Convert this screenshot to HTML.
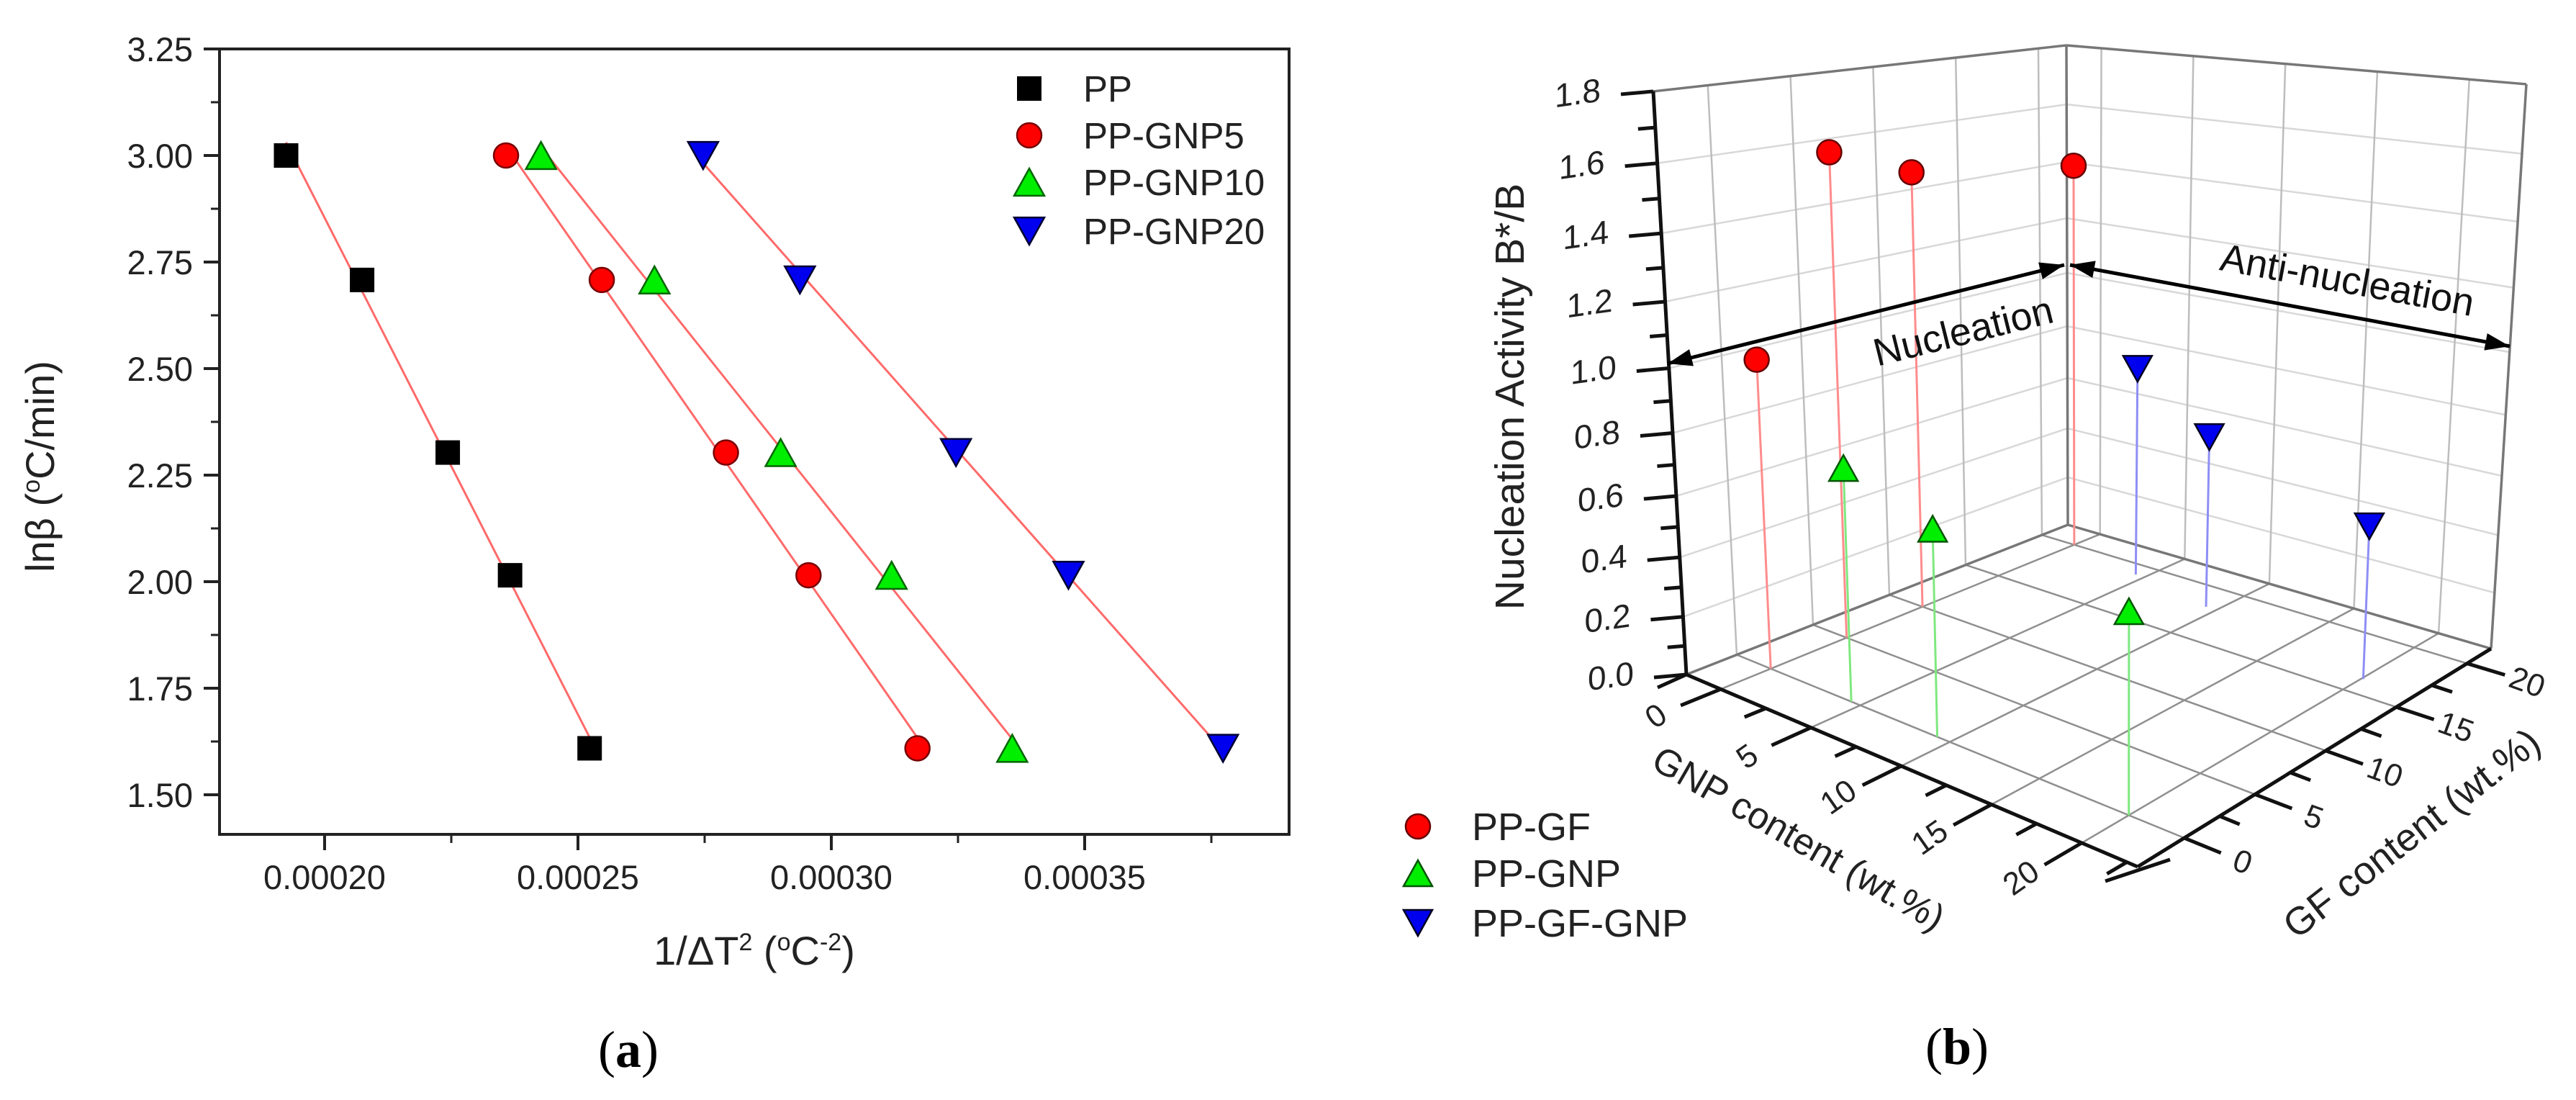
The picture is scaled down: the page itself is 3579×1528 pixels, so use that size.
<!DOCTYPE html>
<html><head><meta charset="utf-8"><style>
html,body{margin:0;padding:0;background:#fff;}
svg{display:block;font-family:"Liberation Sans",Arial,sans-serif;}
</style></head><body>
<svg id="fig" width="3579" height="1528" viewBox="0 0 3579 1528" xmlns="http://www.w3.org/2000/svg">
<g id="panelA"></g>
<g id="panelB"></g>
<text x="873" y="1482" font-family="Liberation Serif,serif" font-size="72" text-anchor="middle">(<tspan font-weight="bold">a</tspan>)</text>
<text x="2719" y="1478" font-family="Liberation Serif,serif" font-size="72" text-anchor="middle">(<tspan font-weight="bold">b</tspan>)</text>
</svg>
<script>
// ---------- Panel (a) data ----------
const lnBeta = [3.0, 2.708, 2.303, 2.015, 1.609];
const xPP = [0.0001924, 0.0002074, 0.0002243, 0.0002366, 0.0002523];
const xGNP5 = [0.0002358, 0.0002547, 0.0002792, 0.0002955, 0.0003170];
const xGNP10 = [0.0002427, 0.0002651, 0.0002900, 0.0003119, 0.0003357];
const xGNP20 = [0.0002747, 0.0002938, 0.0003246, 0.0003468, 0.0003773];
const xTicks = [0.00020, 0.00025, 0.00030, 0.00035];
const xTickLabels = ["0.00020", "0.00025", "0.00030", "0.00035"];
const yTicks = [1.50, 1.75, 2.00, 2.25, 2.50, 2.75, 3.00, 3.25];
const yTickLabels = ["1.50", "1.75", "2.00", "2.25", "2.50", "2.75", "3.00", "3.25"];
const seriesNamesA = ["PP", "PP-GNP5", "PP-GNP10", "PP-GNP20"];

// ---------- Panel (b) data ----------
const gnpTicks = [0, 5, 10, 15, 20];
const gfTicks = [0, 5, 10, 15, 20];
const zTicks = [0, 0.2, 0.4, 0.6, 0.8, 1.0, 1.2, 1.4, 1.6, 1.8];
const zTickLabels = ["0.0", "0.2", "0.4", "0.6", "0.8", "1.0", "1.2", "1.4", "1.6", "1.8"];
const ppgfGNP = [0, 0, 0, 0];
const ppgfGF = [0, 5, 10, 20];
const ppgfZ = [1.015, 1.59, 1.49, 1.42];
const ppgnpGNP = [4.5, 9.3, 20];
const ppgnpGF = [0, 0, 0];
const ppgnpZ = [0.753, 0.65, 0.59];
const ppgfgnpGNP = [4.5, 9.4, 20.1];
const ppgfgnpGF = [19, 18.1, 16.3];
const ppgfgnpZ = [0.775, 0.62, 0.515];
const seriesNamesB = ["PP-GF", "PP-GNP", "PP-GF-GNP"];

const NS = "http://www.w3.org/2000/svg";
function mk(tag, attrs, parent) {
  const e = document.createElementNS(NS, tag);
  for (const k in attrs) e.setAttribute(k, attrs[k]);
  parent.appendChild(e);
  return e;
}
function tri(cx, cy, s, down) {
  const h = s * 0.9;
  if (down) return `${cx - s/2},${cy - h/2} ${cx + s/2},${cy - h/2} ${cx},${cy + h/2}`;
  return `${cx - s/2},${cy + h/2} ${cx + s/2},${cy + h/2} ${cx},${cy - h/2}`;
}

// ================= Panel A =================
const A = document.getElementById("panelA");
const fx = v => 451 + (v - 0.0002) / 0.00005 * 352;
const fy = v => 216 - (v - 3.0) * 592;
const FL = 305, FR = 1791, FT = 68, FB = 1159;

const frame = mk("rect", {x: FL, y: FT, width: FR - FL, height: FB - FT, fill: "none", stroke: "#222", "stroke-width": 4}, A);



xTicks.forEach((t, i) => {
  const x = fx(t);
  const tk = mk("line", {x1: x, y1: FB, x2: x, y2: FB + 22, stroke: "#222", "stroke-width": 4}, A);
  
  
  const mx = fx(t + 0.000025);
  if (mx < FR) {
    const mt = mk("line", {x1: mx, y1: FB, x2: mx, y2: FB + 12, stroke: "#222", "stroke-width": 3}, A);
    
    
  }
  const lb = mk("text", {x: x, y: 1235, "font-size": 47, "text-anchor": "middle", fill: "#222"}, A);
  lb.textContent = xTickLabels[i];
  
  
});
const mx0 = fx(0.000175 + 0.0000);
yTicks.forEach((t, i) => {
  const y = fy(t);
  const tk = mk("line", {x1: FL - 22, y1: y, x2: FL, y2: y, stroke: "#222", "stroke-width": 4}, A);
  
  
  const my = fy(t - 0.125);
  if (my < FB) {
    const mt = mk("line", {x1: FL - 12, y1: my, x2: FL, y2: my, stroke: "#222", "stroke-width": 3}, A);
    
    
  }
  const lb = mk("text", {x: 268, y: y + 17, "font-size": 47, "text-anchor": "end", fill: "#222"}, A);
  lb.textContent = yTickLabels[i];
  
  
});
const xt = mk("text", {x: 1048, y: 1340, "font-size": 56, "text-anchor": "middle", fill: "#222"}, A);
xt.innerHTML = '1/ΔT<tspan dy="-20" font-size="34">2</tspan><tspan dy="20"> (</tspan><tspan dy="-20" font-size="34">o</tspan><tspan dy="20">C</tspan><tspan dy="-20" font-size="34">-2</tspan><tspan dy="20">)</tspan>';


const yt = mk("text", {x: 0, y: 0, "font-size": 56, "text-anchor": "middle", fill: "#222", transform: "translate(75,648) rotate(-90)"}, A);
yt.innerHTML = 'lnβ (<tspan dy="-20" font-size="34">o</tspan><tspan dy="20">C/min)</tspan>';



const seriesA = [xPP, xGNP5, xGNP10, xGNP20];
const fillsA = ["#000", "#ff0000", "#00ee00", "#0000ee"];
const strokesA = ["#000", "#700", "#060", "#003"];
const shapesA = ["square", "circle", "up", "down"];
function markerA(shape, cx, cy, i, parent) {
  let e;
  if (shape === "square") e = mk("rect", {x: cx - 16, y: cy - 16, width: 32, height: 32, fill: fillsA[i], stroke: strokesA[i], "stroke-width": 2}, parent);
  else if (shape === "circle") e = mk("circle", {cx: cx, cy: cy, r: 17, fill: fillsA[i], stroke: strokesA[i], "stroke-width": 2.5}, parent);
  else e = mk("polygon", {points: tri(cx, cy, 42, shape === "down"), fill: fillsA[i], stroke: strokesA[i], "stroke-width": 2.5}, parent);
  return e;
}
seriesA.forEach((xs, i) => {
  // least-squares fit line
  const n = xs.length;
  const mxv = xs.reduce((a, b) => a + b) / n, myv = lnBeta.reduce((a, b) => a + b) / n;
  let sxy = 0, sxx = 0;
  for (let k = 0; k < n; k++) { sxy += (xs[k] - mxv) * (lnBeta[k] - myv); sxx += (xs[k] - mxv) ** 2; }
  const b = sxy / sxx, a = myv - b * mxv;
  const x0 = Math.min(...xs), x1 = Math.max(...xs);
  const ln = mk("line", {x1: fx(x0), y1: fy(a + b * x0), x2: fx(x1), y2: fy(a + b * x1), stroke: "#ff6a6a", "stroke-width": 3}, A);
  
  
});
seriesA.forEach((xs, i) => {
  xs.forEach((v, k) => {
    const m = markerA(shapesA[i], fx(v), fy(lnBeta[k]), i, A);
    
    
  });
});
const legendRowsA = [123, 188, 253, 321];
seriesNamesA.forEach((nm, i) => {
  const g = mk("g", {}, A);
  
  
  markerA(shapesA[i], 1430, legendRowsA[i], i, g);
  const t = mk("text", {x: 1505, y: legendRowsA[i] + 18, "font-size": 51, fill: "#222"}, g);
  t.textContent = nm;
});

// ================= Panel B =================
const B = document.getElementById("panelB");
const GMIN = -1.9, GR = 25, FMIN = -3.3, FRG = 25;
const C00 = [2343, 937], C10 = [2970, 1204], C01 = [2873, 729], C11 = [3461, 901];
const H00 = [-46, -810], H10 = [0, -991], H01 = [-2, -666], H11 = [49, -784];
function bil(u, v, a, b, c, d) {
  return [(1-u)*(1-v)*a[0] + u*(1-v)*b[0] + (1-u)*v*c[0] + u*v*d[0],
          (1-u)*(1-v)*a[1] + u*(1-v)*b[1] + (1-u)*v*c[1] + u*v*d[1]];
}
const gz = z => (394.4 * z + 30.6 * z * z) / 809;
function P(g, f, z) {
  const u = (g - GMIN) / GR, v = (f - FMIN) / FRG;
  const p = bil(u, v, C00, C10, C01, C11), h = bil(u, v, H00, H10, H01, H11);
  const s = gz(z);
  return [p[0] + h[0] * s, p[1] + h[1] * s];
}
const GMAX = GMIN + GR, FMAX = FMIN + FRG;
function line3(a, b, attrs, name) {
  const e = mk("line", Object.assign({x1: a[0], y1: a[1], x2: b[0], y2: b[1]}, attrs), B);
  
  
  return e;
}
const lightGrid = {stroke: "#d8d8d8", "stroke-width": 2.5};
const wallGrid = {stroke: "#bdbdbd", "stroke-width": 2.5};
const floorGrid = {stroke: "#8f8f8f", "stroke-width": 2.5};
// wall horizontal grid
zTicks.slice(1, -1).forEach(z => {
  line3(P(GMIN, FMIN, z), P(GMIN, FMAX, z), lightGrid, 'left-wall-grid-h');
  line3(P(GMIN, FMAX, z), P(GMAX, FMAX, z), lightGrid, 'right-wall-grid-h');
});
// wall vertical grid
gfTicks.forEach(f => line3(P(GMIN, f, 0), P(GMIN, f, 1.8), wallGrid, 'left-wall-grid-v'));
gnpTicks.forEach(g => line3(P(g, FMAX, 0), P(g, FMAX, 1.8), wallGrid, 'right-wall-grid-v'));
// floor grid
gnpTicks.forEach(g => line3(P(g, FMIN, 0), P(g, FMAX, 0), floorGrid, 'floor-grid-gnp'));
gfTicks.forEach(f => line3(P(GMIN, f, 0), P(GMAX, f, 0), floorGrid, 'floor-grid-gf'));
// box edges
const edge = {stroke: "#777", "stroke-width": 3.5};
line3(P(GMIN, FMIN, 1.8), P(GMIN, FMAX, 1.8), edge, 'left-wall-top-edge');
line3(P(GMIN, FMAX, 1.8), P(GMAX, FMAX, 1.8), edge, 'right-wall-top-edge');
line3(P(GMIN, FMAX, 0), P(GMIN, FMAX, 1.8), edge, 'back-vertical-edge');
line3(P(GMAX, FMAX, 0), P(GMAX, FMAX, 1.8), edge, 'right-vertical-edge');
line3(P(GMIN, FMIN, 0), P(GMIN, FMAX, 0), edge, 'floor-back-left-edge');
line3(P(GMIN, FMAX, 0), P(GMAX, FMAX, 0), edge, 'floor-back-right-edge');
// axes
const axs = {stroke: "#111", "stroke-width": 5};
line3(P(GMIN, FMIN, 0), P(GMIN, FMIN, 1.8), axs, 'z-axis-line');
line3(P(GMIN, FMIN, 0), P(GMAX, FMIN, 0), axs, 'gnp-axis-line');
line3(P(GMAX, FMIN, 0), P(GMAX, FMAX, 0), axs, 'gf-axis-line');
// z ticks
zTicks.forEach((z, i) => {
  const p = P(GMIN, FMIN, z);
  line3([p[0] - 45, p[1] + 4], p, axs, 'z-tick');
  if (i < zTicks.length - 1) {
    const q = P(GMIN, FMIN, z + 0.1);
    line3([q[0] - 24, q[1] + 2], q, axs, 'z-minor-tick');
  }
  const t = mk("text", {x: p[0] - 105, y: p[1] + 20, "font-size": 46, "text-anchor": "middle", fill: "#222", transform: `skewY(-6) `}, B);
  t.setAttribute("transform", `translate(${p[0]-105},${p[1]+18}) skewY(-8)`);
  t.setAttribute("x", 0); t.setAttribute("y", 0);
  t.textContent = zTickLabels[i];
  
  
});
// GNP ticks
function unit(a, b) { const dx = b[0]-a[0], dy = b[1]-a[1], l = Math.hypot(dx, dy); return [dx/l, dy/l]; }
gnpTicks.forEach((g, i) => {
  const p = P(g, FMIN, 0), d = unit(P(g, FMIN + 5, 0), p);
  line3(p, [p[0] + d[0]*60, p[1] + d[1]*60], axs, 'gnp-tick');
  const q = P(g + 2.5, FMIN, 0);
  line3(q, [q[0] + d[0]*32, q[1] + d[1]*32], axs, 'gnp-minor-tick');
  const t = mk("text", {x: 0, y: 0, "font-size": 44, "text-anchor": "middle", fill: "#222", transform: `translate(${p[0] + d[0]*88},${p[1] + d[1]*88 + 16}) rotate(-35)`}, B);
  t.textContent = String(g);
  
  
});
// GF ticks
gfTicks.forEach((f, i) => {
  const p = P(GMAX, f, 0), d = unit(P(GMAX - 5, f, 0), p);
  line3(p, [p[0] + d[0]*55, p[1] + d[1]*55], axs, 'gf-tick');
  const q = P(GMAX, f + 2.5, 0);
  if (f + 2.5 < FMAX) line3(q, [q[0] + d[0]*30, q[1] + d[1]*30], axs, 'gf-minor-tick');
  const t = mk("text", {x: 0, y: 0, "font-size": 44, "text-anchor": "middle", fill: "#222", transform: `translate(${p[0] + d[0]*82},${p[1] + d[1]*82 + 16}) rotate(20)`}, B);
  t.textContent = String(f);
  
  
});
const m0 = P(GMIN - 1.2, FMIN, 0);
line3(P(GMIN, FMIN, 0), [P(GMIN, FMIN, 0)[0] - 40, P(GMIN, FMIN, 0)[1] + 18], axs, 'gnp-axis-start-tick');
const fc = P(GMAX, FMIN, 0);
line3([fc[0] - 45, fc[1] + 20], [fc[0] + 45, fc[1] - 10], axs, 'front-corner-tick');

// axis titles
const zt = mk("text", {x: 0, y: 0, "font-size": 57, "text-anchor": "middle", fill: "#222", transform: "translate(2117,551) rotate(-90)"}, B);
zt.textContent = "Nucleation Activity B*/B";


const gt = mk("text", {x: 0, y: 0, "font-size": 52, "text-anchor": "middle", fill: "#222", transform: "translate(2490,1180) rotate(30)"}, B);
gt.textContent = "GNP content (wt.%)";


const ft = mk("text", {x: 0, y: 0, "font-size": 54, "text-anchor": "middle", fill: "#222", transform: "translate(3362,1172) rotate(-38)"}, B);
ft.textContent = "GF content (wt.%)";



// stems + markers
const seriesB = [[ppgfGNP, ppgfGF, ppgfZ], [ppgnpGNP, ppgnpGF, ppgnpZ], [ppgfgnpGNP, ppgfgnpGF, ppgfgnpZ]];
const stemCols = ["#ff8c8c", "#7fe87f", "#8e8ef5"];
const fillsB = ["#ff0000", "#00ee00", "#0000ee"];
const strokesB = ["#600", "#050", "#002"];
const shapesB = ["circle", "up", "down"];
function markerB(i, cx, cy, parent) {
  if (shapesB[i] === "circle") return mk("circle", {cx: cx, cy: cy, r: 17, fill: fillsB[i], stroke: strokesB[i], "stroke-width": 2.5}, parent);
  return mk("polygon", {points: tri(cx, cy, 40, shapesB[i] === "down"), fill: fillsB[i], stroke: strokesB[i], "stroke-width": 2.5}, parent);
}
seriesB.forEach((s, i) => {
  s[0].forEach((g, k) => {
    const base = P(g, s[1][k], 0), top = P(g, s[1][k], s[2][k]);
    line3(base, top, {stroke: stemCols[i], "stroke-width": 3}, 'stem-' + seriesNamesB[i].toLowerCase());
  });
});
seriesB.forEach((s, i) => {
  s[0].forEach((g, k) => {
    const top = P(g, s[1][k], s[2][k]);
    const m = markerB(i, top[0], top[1], B);
    
    
  });
});

// annotations (arrows)
function arrowHead(tip, from, parent) {
  const d = unit(from, tip), n = [-d[1], d[0]], L = 34, W = 12;
  return mk("polygon", {points: `${tip[0]},${tip[1]} ${tip[0]-d[0]*L+n[0]*W},${tip[1]-d[1]*L+n[1]*W} ${tip[0]-d[0]*L-n[0]*W},${tip[1]-d[1]*L-n[1]*W}`, fill: "#000"}, parent);
}
const nA = [2317, 505], nB = [2868, 368], aA = [2876, 368], aB = [3487, 481];
const ng = mk("g", {}, B);


mk("line", {x1: nA[0], y1: nA[1], x2: nB[0], y2: nB[1], stroke: "#000", "stroke-width": 5}, ng);
arrowHead(nA, nB, ng); arrowHead(nB, nA, ng);
const ag = mk("g", {}, B);


mk("line", {x1: aA[0], y1: aA[1], x2: aB[0], y2: aB[1], stroke: "#000", "stroke-width": 5}, ag);
arrowHead(aA, aB, ag); arrowHead(aB, aA, ag);
const nt = mk("text", {x: 0, y: 0, "font-size": 54, "text-anchor": "middle", fill: "#111", transform: "translate(2732,478) rotate(-14)"}, B);
nt.textContent = "Nucleation";


const at = mk("text", {x: 0, y: 0, "font-size": 54, "text-anchor": "middle", fill: "#111", transform: "translate(3258,407) rotate(10.4)"}, B);
at.textContent = "Anti-nucleation";



// legend B
const legendRowsB = [1148, 1213, 1282];
seriesNamesB.forEach((nm, i) => {
  const g = mk("g", {}, B);
  
  
  markerB(i, 1970, legendRowsB[i], g);
  const t = mk("text", {x: 2045, y: legendRowsB[i] + 19, "font-size": 54, fill: "#222"}, g);
  t.textContent = nm;
});
</script>
</body></html>
